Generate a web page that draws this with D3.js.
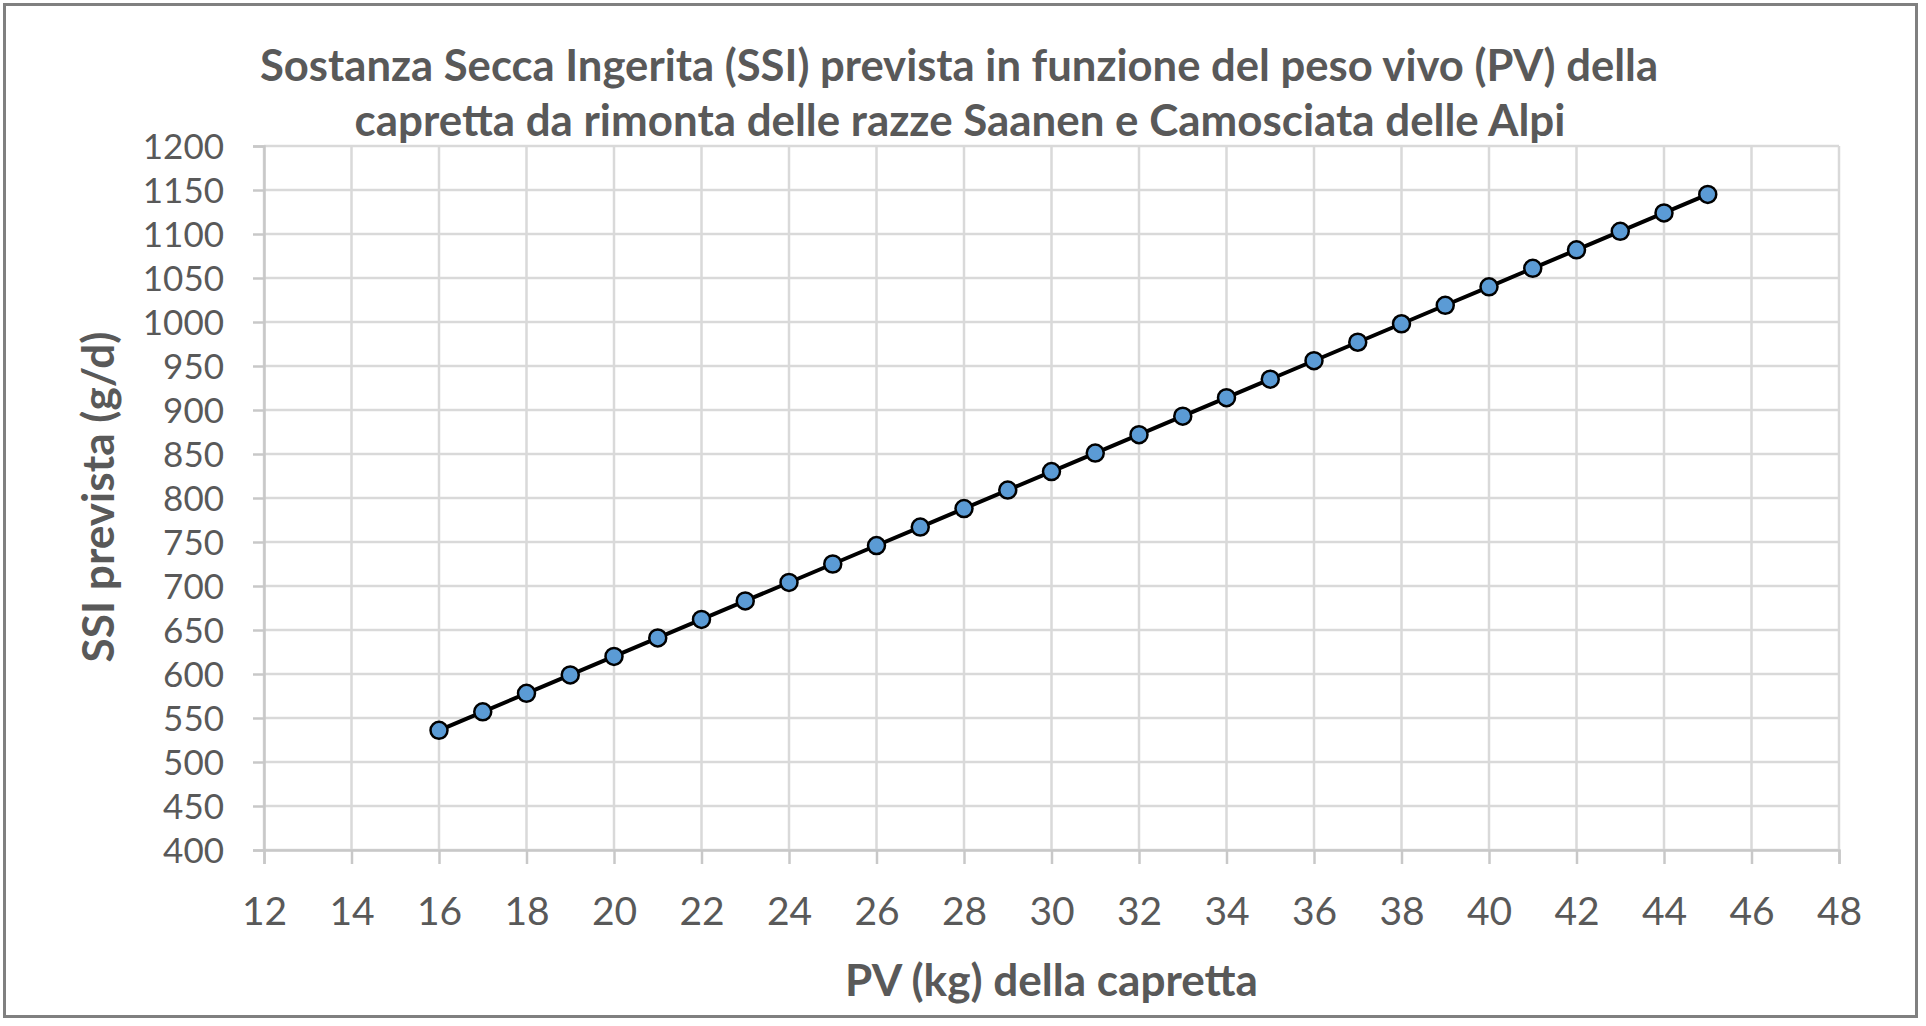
<!DOCTYPE html>
<html>
<head>
<meta charset="utf-8">
<script src="https://cdn.jsdelivr.net/npm/d3@7"></script>
<style>
  html, body { margin: 0; padding: 0; background: #ffffff; }
  svg { display: block; }
  text { font-family: Lato, "Open Sans", sans-serif; fill: #595959; }
</style>
</head>
<body>
<script>
// ---- data ----
const titleLines = [
  "Sostanza Secca Ingerita (SSI) prevista in funzione del peso vivo (PV) della",
  "capretta da rimonta delle razze Saanen e Camosciata delle Alpi"
];
const xTitle = "PV (kg) della capretta";
const yTitle = "SSI prevista (g/d)";
const pv  = [16, 17, 18, 19, 20, 21, 22, 23, 24, 25, 26, 27, 28, 29, 30,
             31, 32, 33, 34, 35, 36, 37, 38, 39, 40, 41, 42, 43, 44, 45];
const ssi = [536, 557, 578, 599, 620, 641, 662, 683, 704, 725, 746, 767, 788, 809, 830,
             851, 872, 893, 914, 935, 956, 977, 998, 1019, 1040, 1061, 1082, 1103, 1124, 1145];
const xTicks = [12, 14, 16, 18, 20, 22, 24, 26, 28, 30, 32, 34, 36, 38, 40, 42, 44, 46, 48];
const yTicks = [400, 450, 500, 550, 600, 650, 700, 750, 800, 850, 900, 950, 1000, 1050, 1100, 1150, 1200];

// ---- layout ----
const W = 1926, H = 1026;
const plot = { left: 264, right: 1839, top: 146, bottom: 850 };

const svg = d3.select("body").append("svg").attr("width", W).attr("height", H);

svg.append("rect").attr("x", 4.5).attr("y", 4.5).attr("width", 1912).attr("height", 1012)
  .attr("fill", "#ffffff").attr("stroke", "#808080").attr("stroke-width", 3);

const x = d3.scaleLinear().domain([12, 48]).range([plot.left, plot.right]);
const y = d3.scaleLinear().domain([400, 1200]).range([plot.bottom, plot.top]);

// gridlines
const grid = svg.append("g");
grid.selectAll("line.h").data(yTicks).join("line")
  .attr("x1", plot.left).attr("x2", plot.right)
  .attr("y1", d => y(d)).attr("y2", d => y(d))
  .attr("stroke", "#d9d9d9").attr("stroke-width", 2.5);
grid.selectAll("line.v").data(xTicks).join("line")
  .attr("y1", plot.top).attr("y2", plot.bottom)
  .attr("x1", d => x(d)).attr("x2", d => x(d))
  .attr("stroke", "#d9d9d9").attr("stroke-width", 2.5);

// axes
const xAxis = d3.axisBottom(x).tickValues(xTicks).tickSize(14).tickPadding(33).tickFormat(d3.format("d"));
const yAxis = d3.axisLeft(y).tickValues(yTicks).tickSize(11).tickPadding(29).tickFormat(d3.format("d"));

const gx = svg.append("g").attr("transform", `translate(0,${plot.bottom})`).call(xAxis);
const gy = svg.append("g").attr("transform", `translate(${plot.left},0)`).call(yAxis);
[gx, gy].forEach(g => {
  g.select(".domain").attr("stroke", "#c8c8c8").attr("stroke-width", 2.5);
  g.selectAll(".tick line").attr("stroke", "#c8c8c8").attr("stroke-width", 2.5);
  g.selectAll(".tick text").attr("fill", "#595959")
    .style("font-family", "Lato, 'Open Sans', sans-serif");
});
gx.selectAll(".tick text").style("font-size", "39px");
gy.selectAll(".tick text").style("font-size", "35px").attr("dy", "0.36em");

// line + markers
const line = d3.line().x((d, i) => x(pv[i])).y(d => y(d));
svg.append("path").datum(ssi).attr("d", line)
  .attr("fill", "none").attr("stroke", "#000000").attr("stroke-width", 4);
svg.append("g").selectAll("circle").data(ssi).join("circle")
  .attr("cx", (d, i) => x(pv[i])).attr("cy", d => y(d)).attr("r", 8.5)
  .attr("fill", "#5b9bd5").attr("stroke", "#000000").attr("stroke-width", 2.5);

// fit helper
function fit(sel, target, base) {
  const w = sel.node().getComputedTextLength();
  sel.style("font-size", (base * target / w).toFixed(2) + "px");
}

// title
const t1 = svg.append("text").attr("x", 959).attr("y", 81).attr("text-anchor", "middle")
  .style("font-weight", "bold").style("font-size", "32px").text(titleLines[0]);
fit(t1, 1398, 32);
const t2 = svg.append("text").attr("x", 960).attr("y", 136).attr("text-anchor", "middle")
  .style("font-weight", "bold").style("font-size", "32px").text(titleLines[1]);
fit(t2, 1211, 32);

// axis titles
const xt = svg.append("text").attr("x", (plot.left + plot.right) / 2).attr("y", 996)
  .attr("text-anchor", "middle").style("font-weight", "bold").style("font-size", "34px").text(xTitle);
fit(xt, 413, 34);
const yt = svg.append("text").attr("transform", `translate(114,497) rotate(-90)`)
  .attr("text-anchor", "middle").style("font-weight", "bold").style("font-size", "34px").text(yTitle);
fit(yt, 331, 34);
</script>
</body>
</html>
